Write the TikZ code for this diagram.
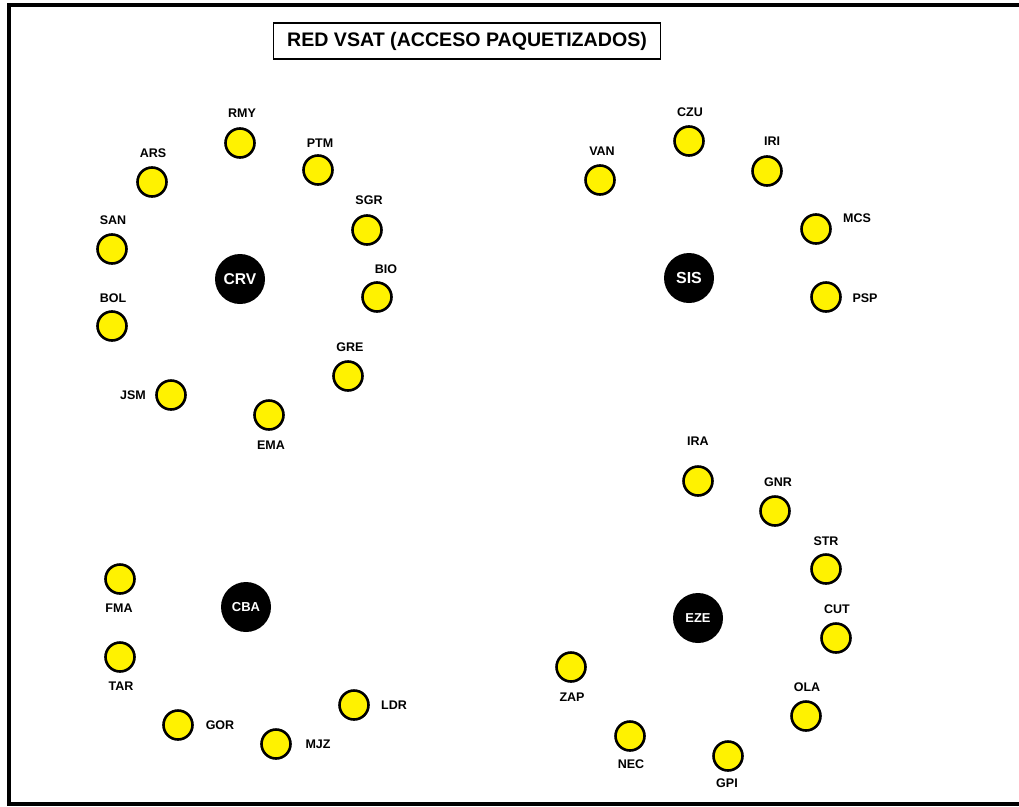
\documentclass[tikz,border=0pt]{standalone}
\usepackage{fontspec}
\setmainfont{Liberation Sans}
\begin{document}
\begin{tikzpicture}[x=1pt,y=-1pt,
  vsat/.style={circle,draw=black,line width=2.6pt,fill=yellow,minimum size=29pt,inner sep=0pt},
  hub/.style={circle,fill=black,minimum size=50pt,inner sep=0pt,text=white,font=\bfseries},
  lbl/.style={font=\bfseries\fontsize{12.5}{14}\selectfont,inner sep=0pt}]
\useasboundingbox (0,0) rectangle (1019,806);
\begin{scope}
\clip (0,0) rectangle (1019,806);
\draw[line width=4pt] (9,4.5) rectangle (1030,803.5);
\end{scope}
\node[draw,line width=1.2pt,minimum width=387pt,minimum height=36pt,font=\bfseries\fontsize{19.6}{22}\selectfont] (title) at (467,41) {RED VSAT (ACCESO PAQUETIZADOS)};
% hubs
\node[hub,font=\bfseries\fontsize{15.6}{17}\selectfont] (CRV) at (240,279) {CRV};
\node[hub,font=\bfseries\fontsize{16}{17}\selectfont] (SIS) at (689,278) {SIS};
\node[hub,font=\bfseries\fontsize{13}{14}\selectfont] (CBA) at (246,607) {CBA};
\node[hub,font=\bfseries\fontsize{12.9}{14}\selectfont] (EZE) at (698,618) {EZE};
% stations
\foreach \n/\x/\y/\lx/\ly in {
 RMY/240/143/242/113, ARS/152/182/153/153, PTM/318/170/320/143,
 SAN/112/249/113/220, SGR/367/230/369/200, BIO/377/297/386/269,
 BOL/112/326/113/298, GRE/348/376/350/347, JSM/171/395/133/395,
 EMA/269/415/271/445,
 VAN/600/180/602/151, CZU/689/141/690/112, IRI/767/171/772/141,
 MCS/816/229/857/218, PSP/826/297/865/298,
 IRA/698/481/698/441, GNR/775/511/778/482, STR/826/569/826/541,
 CUT/836/638/837/609, OLA/806/716/807/687, ZAP/571/667/572/697,
 NEC/630/736/631/764, GPI/728/756/727/783,
 FMA/120/579/119/608, TAR/120/657/121/686, GOR/178/725/220/725,
 MJZ/276/744/318/744, LDR/354/705/394/705}
{
 \node[vsat] (\n) at (\x,\y) {};
 \node[lbl] (\n-l) at (\lx,\ly) {\n};
}
\end{tikzpicture}
\end{document}
